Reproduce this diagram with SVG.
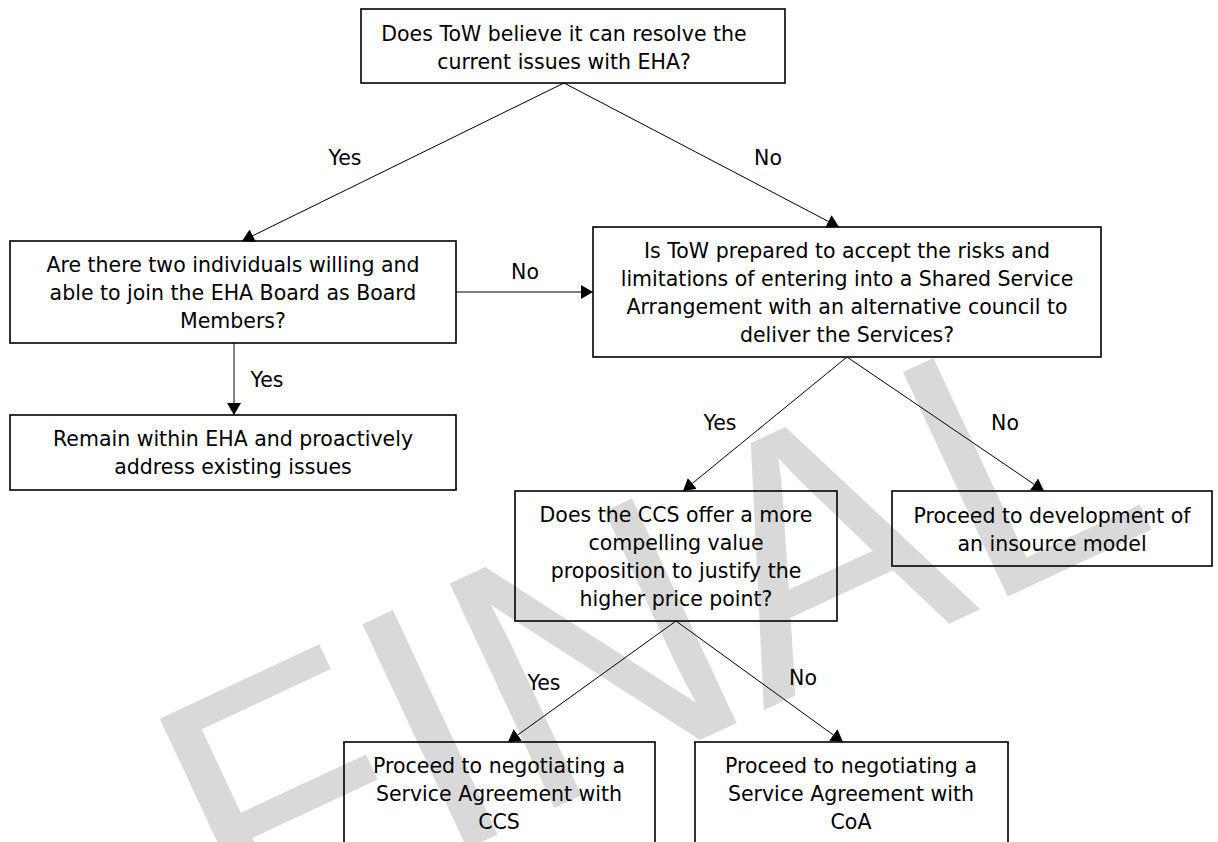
<svg xmlns="http://www.w3.org/2000/svg" width="1218" height="842" viewBox="0 0 1218 842">
<style>
.box{fill:none;stroke:#000;stroke-width:1.6}
.t{font-family:"DejaVu Sans",Verdana,sans-serif;font-size:20.5px;fill:#000;text-anchor:middle}
.c{stroke:#000;stroke-width:1;fill:none}
.wm{font-family:"Liberation Sans",Arial,sans-serif;font-size:360px;fill:#d9d9d9;text-anchor:middle}
</style>
<defs>
<marker id="ah" viewBox="0 0 12 14" refX="12" refY="7" markerWidth="12" markerHeight="14" markerUnits="userSpaceOnUse" orient="auto">
<path d="M0,0 L12,7 L0,14 z" fill="#000"/>
</marker>
</defs>
<rect width="1218" height="842" fill="#fff"/>
<text class="wm" transform="translate(700,740) rotate(-25)">FINAL</text>
<g id="connectors">
<line class="c" x1="564" y1="83" x2="242" y2="241" marker-end="url(#ah)"/>
<line class="c" x1="564" y1="83" x2="839" y2="227" marker-end="url(#ah)"/>
<line class="c" x1="456" y1="292" x2="593" y2="292" marker-end="url(#ah)"/>
<line class="c" x1="234" y1="343" x2="234" y2="415" marker-end="url(#ah)"/>
<line class="c" x1="847" y1="357" x2="683" y2="491" marker-end="url(#ah)"/>
<line class="c" x1="847" y1="357" x2="1044" y2="491" marker-end="url(#ah)"/>
<line class="c" x1="676" y1="621" x2="508" y2="742" marker-end="url(#ah)"/>
<line class="c" x1="676" y1="621" x2="843" y2="742" marker-end="url(#ah)"/>
<text class="t" x="345" y="165">Yes</text>
<text class="t" x="768" y="165">No</text>
<text class="t" x="525" y="279">No</text>
<text class="t" x="267" y="387">Yes</text>
<text class="t" x="720" y="430">Yes</text>
<text class="t" x="1005" y="430">No</text>
<text class="t" x="544" y="690">Yes</text>
<text class="t" x="803" y="685">No</text>
</g>
<g id="n1"><rect class="box" x="361" y="9" width="424" height="74"/>
<text class="t" x="564" y="41">Does ToW believe it can resolve the</text>
<text class="t" x="564" y="69">current issues with EHA?</text></g>
<g id="n2"><rect class="box" x="10" y="241" width="446" height="102"/>
<text class="t" x="233" y="272">Are there two individuals willing and</text>
<text class="t" x="233" y="300">able to join the EHA Board as Board</text>
<text class="t" x="233" y="328">Members?</text></g>
<g id="n3"><rect class="box" x="10" y="415" width="446" height="75"/>
<text class="t" x="233" y="446">Remain within EHA and proactively</text>
<text class="t" x="233" y="474">address existing issues</text></g>
<g id="n4"><rect class="box" x="593" y="227" width="508" height="130"/>
<text class="t" x="847" y="258">Is ToW prepared to accept the risks and</text>
<text class="t" x="847" y="286">limitations of entering into a Shared Service</text>
<text class="t" x="847" y="314">Arrangement with an alternative council to</text>
<text class="t" x="847" y="342">deliver the Services?</text></g>
<g id="n5"><rect class="box" x="515" y="491" width="322" height="130"/>
<text class="t" x="676" y="522">Does the CCS offer a more</text>
<text class="t" x="676" y="550">compelling value</text>
<text class="t" x="676" y="578">proposition to justify the</text>
<text class="t" x="676" y="606">higher price point?</text></g>
<g id="n6"><rect class="box" x="892" y="491" width="320" height="75"/>
<text class="t" x="1052" y="523">Proceed to development of</text>
<text class="t" x="1052" y="551">an insource model</text></g>
<g id="n7"><rect class="box" x="344" y="742" width="311" height="110"/>
<text class="t" x="499" y="773">Proceed to negotiating a</text>
<text class="t" x="499" y="801">Service Agreement with</text>
<text class="t" x="499" y="829">CCS</text></g>
<g id="n8"><rect class="box" x="695" y="742" width="313" height="110"/>
<text class="t" x="851" y="773">Proceed to negotiating a</text>
<text class="t" x="851" y="801">Service Agreement with</text>
<text class="t" x="851" y="829">CoA</text></g>
</svg>
